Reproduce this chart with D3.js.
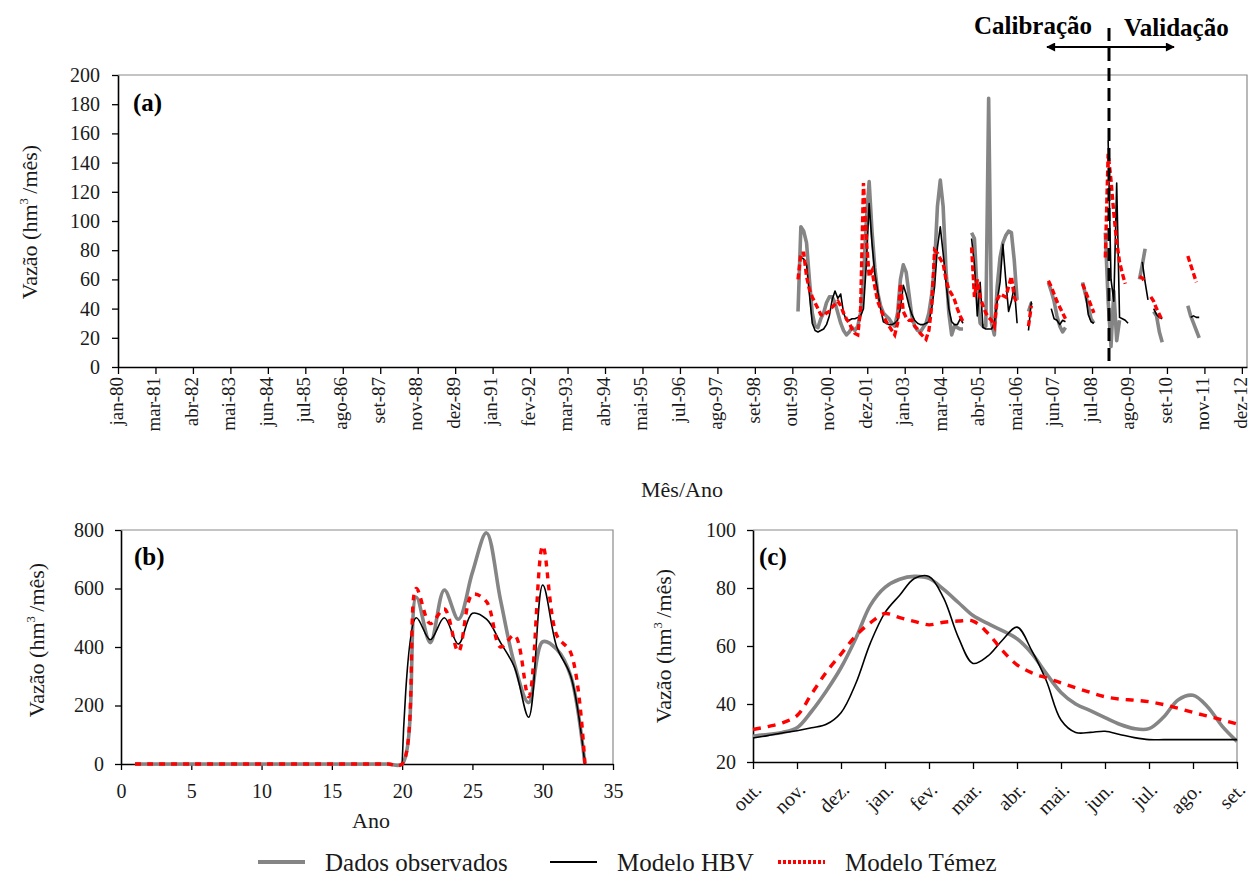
<!DOCTYPE html>
<html><head><meta charset="utf-8">
<script src="https://cdn.jsdelivr.net/npm/d3@7"></script>
<style>
body{margin:0;background:#fff;}
svg{display:block;font-family:"Liberation Serif","DejaVu Serif",serif;}
</style></head><body>
<svg id="chart" width="1250" height="877"></svg>
<script>
// ---------------- DATA ----------------
// Panel (a): monthly flow (hm3/month); month index counted from jan-80 = 0
const aTickLabels = ["jan-80","mar-81","abr-82","mai-83","jun-84","jul-85","ago-86","set-87","nov-88","dez-89","jan-91","fev-92","mar-93","abr-94","mai-95","jul-96","ago-97","set-98","out-99","nov-00","dez-01","jan-03","mar-04","abr-05","mai-06","jun-07","jul-08","ago-09","set-10","nov-11","dez-12"];
const aLastTickMonth = 395;      // dez-12
const aDomainEnd = 396.8;        // axis runs slightly past dez-12
const aStartMonth = 239;         // dez-99
const aYTicks = [0,20,40,60,80,100,120,140,160,180,200];
const aObs = [
 38,96,93,85,60,37,28,27,33,37,
 44,48,48,44,37,30,25,22,24,27,
 25,28,37,60,100,127,93,68,51,42,
 37,35,33,30,28,37,60,70,65,50,
 35,28,25,24,27,30,37,50,70,110,
 128,110,67,37,22,28,27,26,26,null,
 null,92,88,50,30,28,28,184,30,22,
 55,75,85,90,93,92,73,46,null,null,
 null,38,44,null,null,null,null,null,58,52,
 45,35,28,24,27,null,null,null,null,null,
 58,50,42,33,30,null,null,null,92,45,
 14,52,18,32,null,null,null,null,null,null,
 60,70,81,null,null,38,35,24,17,null,
 null,null,null,null,null,null,null,42,35,30,
 25,20];
const aHbv = [
 null,75,74,70,50,30,25,24,25,26,
 29,35,46,52,47,50,37,32,32,33,
 33,34,35,40,70,112,85,64,52,40,
 31,30,29,29,30,32,40,56,50,42,
 36,32,30,29,29,30,31,40,55,82,
 96,78,58,40,31,29,29,33,30,null,
 null,88,70,35,58,27,26,26,26,30,
 45,58,84,60,38,45,55,30,null,null,
 null,25,45,null,null,null,null,null,null,40,
 33,32,29,32,31,null,null,null,null,null,
 null,51,36,31,30,null,null,null,null,155,
 60,45,126,34,33,32,30,null,null,null,
 null,72,58,46,null,40,36,34,33,null,
 null,null,null,null,null,null,null,null,34,35,
 34,34];
const aTemez = [
 60,78,78,62,53,48,44,40,36,35,
 37,38,41,43,45,42,37,33,30,26,
 23,22,40,126,88,62,66,55,45,40,
 35,31,28,25,22,30,57,38,34,32,
 32,28,26,23,21,19,25,42,80,78,
 74,71,60,53,50,46,40,35,31,null,
 null,82,48,60,48,42,37,34,32,28,
 46,50,49,48,55,62,48,43,null,null,
 null,28,42,null,null,null,null,null,59,55,
 50,45,41,37,33,null,null,null,null,null,
 57,52,47,42,37,null,null,null,75,146,
 128,105,86,72,64,57,null,null,null,null,
 62,61,58,null,48,45,40,36,32,null,
 null,null,null,null,null,null,null,76,70,64,
 58,null];
const splitMonth = 348.3;   // calibration / validation boundary

// Panel (b): annual flow (hm3/month) by year
const bYears = [1,2,3,4,5,6,7,8,9,10,11,12,13,14,15,16,17,18,19,20,21,22,23,24,25,26,27,28,29,30,31,32,33];
const bXTicks = [0,5,10,15,20,25,30,35];
const bYTicks = [0,200,400,600,800];
const bObs   = [0,0,0,0,0,0,0,0,0,0,0,0,0,0,0,0,0,0,0,0,570,415,595,495,655,790,560,340,210,418,392,300,0];
const bHbv   = [null,null,null,null,null,null,null,null,null,null,null,null,null,null,null,null,null,null,null,0,500,425,500,410,515,495,415,330,160,612,400,300,0];
const bTemez = [0,0,0,0,0,0,0,0,0,0,0,0,0,0,0,0,0,0,0,0,600,480,530,385,580,555,400,440,230,745,440,380,0];

// Panel (c): mean monthly flow, read every third of a month (out. -> set.)
const cMonths = ["out.","nov.","dez.","jan.","fev.","mar.","abr.","mai.","jun.","jul.","ago.","set."];
const cYTicks = [20,40,60,80,100];
const cObs = [28.9,29.5,30.2,31.8,37.5,44.5,52.5,62.5,74,80.2,83,84,83.3,79.5,75,70.5,67.8,65.3,62.5,57.5,50.5,44,40,37.7,35.3,33,31.5,31.5,35.5,41.5,43,39,32.3,27.1];
const cHbv = [28.3,29.1,30,30.8,31.8,33,37,47,61,71.5,77.5,83.3,84,76.5,63,54,56.5,62,66.5,58.5,48,34.5,30.2,30.2,30.6,29.5,28.4,27.7,27.7,27.7,27.7,27.7,27.7,27.7];
const cTemez = [31.2,32.2,33.5,36,43.5,51,57.2,63.5,68,71.2,69.8,68.5,67.3,68.2,68.6,68.6,64.5,58.5,53.5,50.8,49,47.3,45.6,44,42.5,41.7,41.3,40.8,39.8,38.5,37.1,35.8,34.5,33.1];

const legendItems = ["Dados observados","Modelo HBV","Modelo Témez"];

// ---------------- STYLE ----------------
const GRAY = "#858585", RED = "#ff0000", BLACK = "#000";
const svg = d3.select("#chart");

function styleAxis(g, fs){
  g.attr("font-family", null).attr("font-size", null);
  g.select(".domain").attr("stroke", "#000").attr("stroke-width", 1.6);
  g.selectAll(".tick line").attr("stroke", "#000").attr("stroke-width", 1.3);
  g.selectAll(".tick text").attr("fill", "#1a1a1a").style("font-size", fs + "px");
}
function frame(g, P){
  g.append("path").attr("d", `M${P.l},${P.t}H${P.r}V${P.b}`)
    .attr("fill","none").attr("stroke","#8a8a8a").attr("stroke-width",1.2);
}
function yLabel(x, y, fs){
  const t = svg.append("text").attr("transform", `translate(${x},${y}) rotate(-90)`)
    .attr("text-anchor","middle").style("font-size", fs + "px").attr("fill","#1a1a1a");
  t.append("tspan").text("Vazão (hm");
  t.append("tspan").attr("dy", -fs*0.42).style("font-size", (fs*0.58) + "px").text("3");
  t.append("tspan").attr("dy", fs*0.42).text("\u2009/mês)");
}
function panelTag(x, y, s){
  svg.append("text").attr("x", x).attr("y", y).style("font-size","25px").style("font-weight","bold").text(s);
}

// ---------------- PANEL (a) ----------------
const A = {l:118, r:1247, t:75, b:367};
const xA = d3.scaleLinear().domain([0, aDomainEnd]).range([A.l, A.r]);
const yA = d3.scaleLinear().domain([0, 200]).range([A.b, A.t]);
const gA = svg.append("g");
frame(gA, A);
const aTickPos = aTickLabels.map((_, i) => i * aLastTickMonth / (aTickLabels.length - 1));
gA.append("g").attr("transform", `translate(0,${A.b})`)
  .call(d3.axisBottom(xA).tickValues(aTickPos).tickFormat((d, i) => aTickLabels[i]).tickSize(7).tickSizeOuter(0))
  .call(g => styleAxis(g, 19))
  .call(g => g.selectAll(".tick text").attr("transform","rotate(-90)").attr("x",-10).attr("y",0).attr("dy","0.22em").style("text-anchor","end"));
gA.append("g").attr("transform", `translate(${A.l},0)`)
  .call(d3.axisLeft(yA).tickValues(aYTicks).tickSize(6).tickPadding(12).tickSizeOuter(0))
  .call(g => styleAxis(g, 20));

const lineA = d3.line().defined(d => d[1] != null).x(d => xA(d[0])).y(d => yA(d[1]));
const toA = arr => arr.map((v, i) => [aStartMonth + i, v]);
gA.append("path").attr("d", lineA(toA(aObs))).attr("fill","none").attr("stroke",GRAY).attr("stroke-width",3.6).attr("stroke-linejoin","round");
gA.append("path").attr("d", lineA(toA(aHbv))).attr("fill","none").attr("stroke",BLACK).attr("stroke-width",1.6).attr("stroke-linejoin","round");
gA.append("path").attr("d", lineA(toA(aTemez))).attr("fill","none").attr("stroke",RED).attr("stroke-width",3.4).attr("stroke-dasharray","6,3");

// calibration / validation annotation
const xs = xA(splitMonth);
svg.append("line").attr("x1", xs).attr("x2", xs).attr("y1", 28).attr("y2", 362)
  .attr("stroke","#000").attr("stroke-width",3).attr("stroke-dasharray","13,7");
const defs = svg.append("defs");
defs.append("marker").attr("id","arr").attr("viewBox","0 0 10 10").attr("refX",9).attr("refY",5)
  .attr("markerWidth",12).attr("markerHeight",9).attr("markerUnits","userSpaceOnUse").attr("orient","auto")
  .append("path").attr("d","M0,0L10,5L0,10Z").attr("fill","#000");
svg.append("line").attr("x1", xs).attr("x2", 1047).attr("y1", 47).attr("y2", 47).attr("stroke","#000").attr("stroke-width",2).attr("marker-end","url(#arr)");
svg.append("line").attr("x1", xs).attr("x2", 1174).attr("y1", 47).attr("y2", 47).attr("stroke","#000").attr("stroke-width",2).attr("marker-end","url(#arr)");
svg.append("text").attr("x", xs - 17).attr("y", 34).attr("text-anchor","end").style("font-size","25px").style("font-weight","bold").text("Calibração");
svg.append("text").attr("x", xs + 15).attr("y", 36).attr("text-anchor","start").style("font-size","25px").style("font-weight","bold").text("Validação");

panelTag(133, 111, "(a)");
yLabel(37, 222, 22);
svg.append("text").attr("x", 682).attr("y", 497).attr("text-anchor","middle").style("font-size","22px").attr("fill","#1a1a1a").text("Mês/Ano");

// ---------------- PANEL (b) ----------------
const B = {l:121, r:613, t:530, b:764};
const xB = d3.scaleLinear().domain([0, 35]).range([B.l, B.r]);
const yB = d3.scaleLinear().domain([0, 800]).range([B.b, B.t]);
const gB = svg.append("g");
frame(gB, B);
gB.append("g").attr("transform", `translate(0,${B.b})`)
  .call(d3.axisBottom(xB).tickValues(bXTicks).tickSize(6).tickPadding(14).tickSizeOuter(0))
  .call(g => styleAxis(g, 20));
gB.append("g").attr("transform", `translate(${B.l},0)`)
  .call(d3.axisLeft(yB).tickValues(bYTicks).tickSize(6).tickPadding(11).tickSizeOuter(0))
  .call(g => styleAxis(g, 20));
const lineB = d3.line().defined(d => d[1] != null).x(d => xB(d[0])).y(d => yB(d[1])).curve(d3.curveCatmullRom.alpha(0.5));
const toB = arr => arr.map((v, i) => [bYears[i], v]);
gB.append("path").attr("d", lineB(toB(bObs))).attr("fill","none").attr("stroke",GRAY).attr("stroke-width",3.6);
gB.append("path").attr("d", lineB(toB(bHbv))).attr("fill","none").attr("stroke",BLACK).attr("stroke-width",1.6);
gB.append("path").attr("d", lineB(toB(bTemez))).attr("fill","none").attr("stroke",RED).attr("stroke-width",3.4).attr("stroke-dasharray","6,6");
panelTag(134, 565, "(b)");
yLabel(44, 640, 22);
svg.append("text").attr("x", 371).attr("y", 828).attr("text-anchor","middle").style("font-size","22px").attr("fill","#1a1a1a").text("Ano");

// ---------------- PANEL (c) ----------------
const C = {l:753, r:1237, t:530, b:762};
const xC = d3.scaleLinear().domain([0, cMonths.length - 1]).range([C.l, C.r]);
const yC = d3.scaleLinear().domain([20, 100]).range([C.b, C.t]);
const gC = svg.append("g");
frame(gC, C);
gC.append("g").attr("transform", `translate(0,${C.b})`)
  .call(d3.axisBottom(xC).tickValues(cMonths.map((_, i) => i)).tickFormat((d) => cMonths[d]).tickSize(7).tickSizeOuter(0))
  .call(g => styleAxis(g, 20))
  .call(g => g.selectAll(".tick text").attr("transform","translate(4,24) rotate(-45)").attr("x",0).attr("y",0).attr("dy","0.35em").style("text-anchor","end"));
gC.append("g").attr("transform", `translate(${C.l},0)`)
  .call(d3.axisLeft(yC).tickValues(cYTicks).tickSize(6).tickPadding(11).tickSizeOuter(0))
  .call(g => styleAxis(g, 20));
const lineC = d3.line().x(d => xC(d[0])).y(d => yC(d[1])).curve(d3.curveCatmullRom.alpha(0.5));
const toC = arr => arr.map((v, i) => [i / 3, v]);
gC.append("path").attr("d", lineC(toC(cObs))).attr("fill","none").attr("stroke",GRAY).attr("stroke-width",3.6);
gC.append("path").attr("d", lineC(toC(cHbv))).attr("fill","none").attr("stroke",BLACK).attr("stroke-width",1.6);
gC.append("path").attr("d", lineC(toC(cTemez))).attr("fill","none").attr("stroke",RED).attr("stroke-width",3.4).attr("stroke-dasharray","8,7");
panelTag(759, 565, "(c)");
yLabel(671, 646, 22);

// ---------------- LEGEND ----------------
const legStyles = [
  {x:258, stroke:GRAY, w:4, dash:null},
  {x:550, stroke:BLACK, w:1.8, dash:null},
  {x:778, stroke:RED, w:4, dash:"3,2"}
];
const lg = svg.append("g");
legendItems.forEach((name, i) => {
  const s = legStyles[i];
  lg.append("line").attr("x1", s.x).attr("x2", s.x + 47).attr("y1", 862).attr("y2", 862)
    .attr("stroke", s.stroke).attr("stroke-width", s.w).attr("stroke-dasharray", s.dash);
  lg.append("text").attr("x", s.x + 67).attr("y", 871).style("font-size","25px").attr("fill","#1a1a1a").text(name);
});
</script>
</body></html>
